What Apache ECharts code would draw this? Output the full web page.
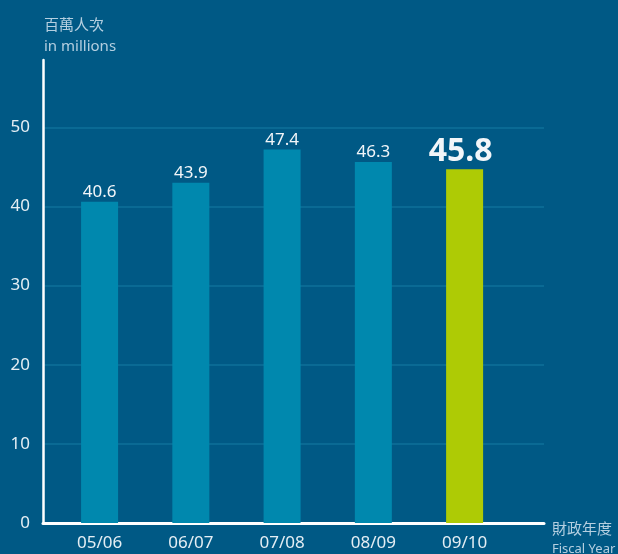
<!DOCTYPE html>
<html>
<head>
<meta charset="utf-8">
<script src="https://cdn.jsdelivr.net/npm/echarts@6/dist/echarts.min.js"></script>
<style>
  html, body { margin: 0; padding: 0; background: #005985; }
  #chart { width: 618px; height: 554px; }
</style>
</head>
<body>
<div id="chart"></div>
<script>
const fiscalYears = ["05/06", "06/07", "07/08", "08/09", "09/10"];
// bar heights as drawn in the picture
const barValues = [40.6, 43.0, 47.2, 45.6, 44.7];
// printed labels above the bars
const barLabels = ["40.6", "43.9", "47.4", "46.3", "45.8"];
const yTicks = [0, 10, 20, 30, 40, 50];

const FONT = "'Noto Sans', 'Noto Sans CJK TC', sans-serif";
const chart = echarts.init(document.getElementById("chart"));

chart.setOption({
  backgroundColor: "#005985",
  animation: false,
  title: {
    text: "百萬人次\nin millions",
    left: 39,
    top: 10,
    textStyle: {
      color: "#b4cfe0",
      fontSize: 15,
      fontWeight: "normal",
      fontFamily: FONT,
      lineHeight: 21,
    },
  },
  grid: {
    left: 43,
    right: 74,
    top: 60,
    bottom: 31,
    outerBoundsMode: "none",
    containLabel: false,
  },
  xAxis: {
    type: "value",
    min: -0.62,
    max: 4.87,
    name: "{cn|財政年度}\n{en|Fiscal Year}",
    nameLocation: "end",
    nameGap: 8,
    nameTextStyle: {
      align: "left",
      verticalAlign: "top",
      padding: [-3, 0, 0, 0],
      rich: {
        cn: { color: "#b4cfe0", fontSize: 15, fontFamily: FONT, lineHeight: 20 },
        en: { color: "#b4cfe0", fontSize: 13, fontFamily: FONT, lineHeight: 18 },
      },
    },
    axisLine: { show: true, onZero: false, lineStyle: { color: "#ffffff", width: 3 } },
    axisTick: { show: false },
    splitLine: { show: false },
    axisLabel: {
      customValues: [0, 1, 2, 3, 4],
      formatter: (v) => fiscalYears[Math.round(v)],
      color: "#e4eef4",
      fontSize: 17,
      fontFamily: FONT,
      margin: 12,
    },
  },
  yAxis: {
    type: "value",
    min: 0,
    max: 58.5,
    interval: 10,
    axisLine: { show: true, onZero: false, lineStyle: { color: "#ffffff", width: 2.5 } },
    axisTick: { show: false },
    axisLabel: {
      customValues: yTicks,
      color: "#e4eef4",
      fontSize: 17,
      fontFamily: FONT,
      margin: 13,
    },
    splitLine: {
      show: true,
      showMinLine: false,
      showMaxLine: false,
      lineStyle: { color: "#0a6a94", width: 2 },
    },
  },
  series: [
    {
      type: "bar",
      barWidth: 37,
      data: barValues.map((v, i) => {
        const last = i === barValues.length - 1;
        return {
          value: [i, v],
          itemStyle: { color: last ? "#aecb05" : "#0088ae" },
          label: {
            show: true,
            position: "top",
            distance: 1,
            formatter: barLabels[i],
            color: "#f2f6f9",
            fontFamily: FONT,
            fontSize: last ? 32 : 17,
            fontWeight: last ? "bold" : "normal",
            offset: last ? [-4, 0] : [0, 0],
          },
        };
      }),
    },
  ],
});
</script>
</body>
</html>
